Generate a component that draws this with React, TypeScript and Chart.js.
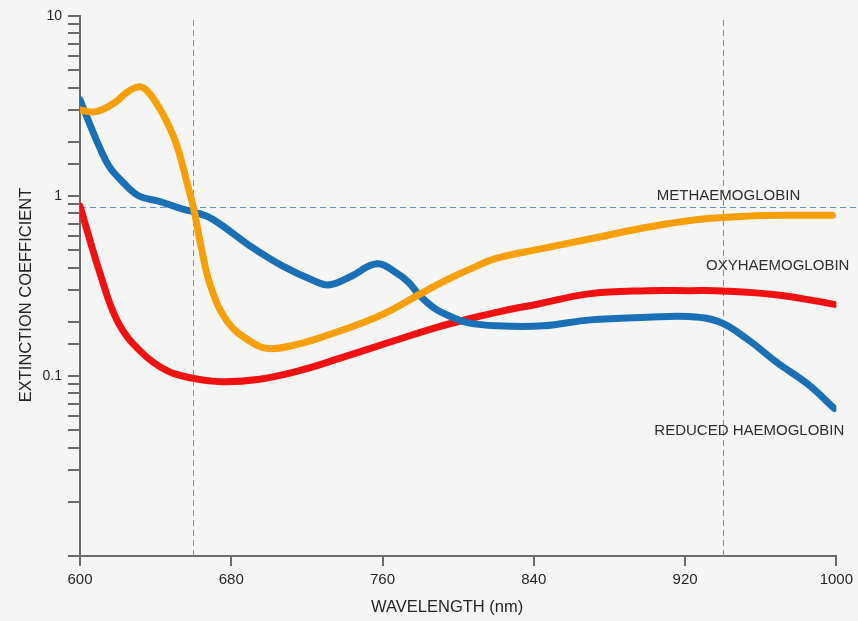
import React, { useEffect, useRef } from 'react';
import { Chart, registerables } from 'chart.js';

Chart.register(...registerables);

// ---- data ----
const methNm = [600, 608.6, 619, 624.4, 630.7, 635, 640.2, 645.4, 650.7, 654.4, 657.5, 660.2, 664, 669, 678, 690, 700, 716, 732, 748, 762, 780, 795, 808, 820, 843, 874, 900, 927, 953, 980, 998];
const methVals = [3.01, 2.94, 3.34, 3.74, 4.04, 3.89, 3.3, 2.65, 1.98, 1.46, 1.09, 0.845, 0.527, 0.317, 0.2, 0.156, 0.142, 0.151, 0.17, 0.195, 0.225, 0.286, 0.346, 0.4, 0.45, 0.507, 0.59, 0.67, 0.74, 0.773, 0.782, 0.782];

const oxyNm = [600, 611, 620, 632, 646, 660, 675, 695, 716, 738, 762, 790, 806, 822, 843, 869, 900, 922, 940, 969, 999];
const oxyVals = [0.88, 0.36, 0.2, 0.137, 0.107, 0.097, 0.093, 0.096, 0.107, 0.126, 0.152, 0.188, 0.208, 0.228, 0.252, 0.286, 0.298, 0.298, 0.297, 0.282, 0.25];

const reducedNm = [600, 604.9, 610.2, 615.4, 622.8, 631.2, 641.7, 654.4, 661.2, 670.2, 690, 707, 725, 732, 743, 757, 768, 774, 779, 787, 796, 805, 820, 845, 870, 900, 922, 938, 953, 969, 985, 999];
const reducedVals = [3.42, 2.55, 1.88, 1.46, 1.19, 1.0, 0.935, 0.845, 0.81, 0.743, 0.527, 0.409, 0.334, 0.321, 0.356, 0.42, 0.37, 0.33, 0.285, 0.24, 0.214, 0.198, 0.19, 0.19, 0.205, 0.212, 0.214, 0.2, 0.16, 0.118, 0.09, 0.066];

const seriesNames = ['METHAEMOGLOBIN', 'OXYHAEMOGLOBIN', 'REDUCED HAEMOGLOBIN'];
const labelNm = [943, 969, 954];
const labelVals = [1.0, 0.409, 0.0495];

const xMin = 600;
const xMax = 1000;
const xStep = 80;
const yMin = 0.01;
const yMax = 10;
const yLabelTicks = [10, 1, 0.1];
const guideWavelengths = [660, 940];
const guideCoefficient = 0.865;

const xTitle = 'WAVELENGTH (nm)';
const yTitle = 'EXTINCTION COEFFICIENT';

// ---- styles ----
const FONT = '"Liberation Sans", Arial, Helvetica, sans-serif';
const AXIS_COLOR = '#6a6a6a';
const TEXT_COLOR = '#262626';
const BG = '#f5f5f5';
const GUIDE = '#5f95d6';
const METH_COLOR = '#f79f06';
const OXY_COLOR = '#f01212';
const RED_COLOR = '#1b6fb6';

const decorPlugin = {
  id: 'decor',
  beforeDraw(chart: any) {
    const { ctx, width, height } = chart;
    ctx.save();
    ctx.fillStyle = BG;
    ctx.fillRect(0, 0, width, height);
    ctx.restore();
  },
  beforeDatasetsDraw(chart: any) {
    const { ctx, chartArea, scales } = chart;
    const xs = scales.x;
    const ys = scales.y;
    ctx.save();
    ctx.strokeStyle = GUIDE;
    ctx.lineWidth = 1;
    ctx.setLineDash([6, 4]);
    guideWavelengths.forEach((w) => {
      const px = Math.round(xs.getPixelForValue(w)) + 0.5;
      ctx.beginPath();
      ctx.moveTo(px, chartArea.top + 4);
      ctx.lineTo(px, chartArea.bottom);
      ctx.stroke();
    });
    const py = Math.round(ys.getPixelForValue(guideCoefficient)) + 0.5;
    ctx.beginPath();
    ctx.moveTo(chartArea.left, py);
    ctx.lineTo(chart.width, py);
    ctx.stroke();
    ctx.restore();
  },
  afterDraw(chart: any) {
    const { ctx, chartArea, scales } = chart;
    const xs = scales.x;
    const ys = scales.y;
    ctx.save();
    ctx.fillStyle = '#2e2e2e';
    ctx.font = `15px ${FONT}`;
    ctx.textAlign = 'center';
    ctx.textBaseline = 'middle';
    seriesNames.forEach((name, i) => {
      ctx.fillText(name, xs.getPixelForValue(labelNm[i]), ys.getPixelForValue(labelVals[i]));
    });
    // axis titles
    ctx.fillStyle = TEXT_COLOR;
    ctx.font = `16.5px ${FONT}`;
    ctx.fillText(xTitle, (chartArea.left + chartArea.right) / 2 - 11, chart.height - 14);
    ctx.translate(26, (chartArea.top + chartArea.bottom) / 2 + 9);
    ctx.rotate(-Math.PI / 2);
    ctx.fillText(yTitle, 0, 0);
    ctx.restore();
  },
};

function isLabelled(v: number) {
  return yLabelTicks.some((t) => Math.abs(Math.log10(v) - Math.log10(t)) < 1e-6);
}

export default function App() {
  const ref = useRef<HTMLCanvasElement | null>(null);

  useEffect(() => {
    if (!ref.current) return;
    const mk = (xsArr: number[], ysArr: number[]) => xsArr.map((x, i) => ({ x, y: ysArr[i] }));
    const common = {
      pointRadius: 0,
      borderWidth: 7,
      tension: 0.4,
      borderCapStyle: 'round' as const,
      borderJoinStyle: 'round' as const,
      fill: false,
    };
    const chart = new Chart(ref.current, {
      type: 'line',
      data: {
        datasets: [
          { label: seriesNames[0], data: mk(methNm, methVals), borderColor: METH_COLOR, order: 0, ...common },
          { label: seriesNames[2], data: mk(reducedNm, reducedVals), borderColor: RED_COLOR, order: 1, ...common },
          { label: seriesNames[1], data: mk(oxyNm, oxyVals), borderColor: OXY_COLOR, order: 2, ...common },
        ],
      },
      options: {
        animation: false,
        responsive: false,
        events: [],
        layout: { padding: { top: 16, right: 20, left: 0, bottom: 0 } },
        plugins: { legend: { display: false }, tooltip: { enabled: false } },
        scales: {
          x: {
            type: 'linear',
            min: xMin,
            max: xMax,
            afterFit: (s: any) => { s.height = 65; },
            ticks: {
              stepSize: xStep,
              color: TEXT_COLOR,
              font: { size: 15, family: FONT },
              padding: 5,
              maxRotation: 0,
              callback: (v: any) => String(Number(v)),
            },
            grid: {
              drawOnChartArea: false,
              drawTicks: true,
              tickLength: 10,
              color: AXIS_COLOR,
              tickColor: AXIS_COLOR,
              lineWidth: 2,
              tickWidth: 2,
            },
            border: { display: true, color: AXIS_COLOR, width: 2 },
          },
          y: {
            type: 'logarithmic',
            min: yMin,
            max: yMax,
            afterFit: (s: any) => { s.width = 80; },
            ticks: {
              autoSkip: false,
              color: TEXT_COLOR,
              font: { size: 14, family: FONT },
              padding: 6,
              callback: (v: any) => (isLabelled(Number(v)) ? String(Number(v)) : ''),
            },
            grid: {
              drawOnChartArea: false,
              drawTicks: true,
              tickLength: 12,
              color: AXIS_COLOR,
              tickColor: AXIS_COLOR,
              lineWidth: 2,
              tickWidth: 2,
            },
            border: { display: true, color: AXIS_COLOR, width: 2 },
          },
        },
      },
      plugins: [decorPlugin],
    } as any);
    return () => chart.destroy();
  }, []);

  return (
    <div style={{ position: 'absolute', left: 0, top: 0, width: 858, height: 621, background: BG }}>
      <canvas ref={ref} width={858} height={621} style={{ display: 'block', width: 858, height: 621 }} />
    </div>
  );
}
